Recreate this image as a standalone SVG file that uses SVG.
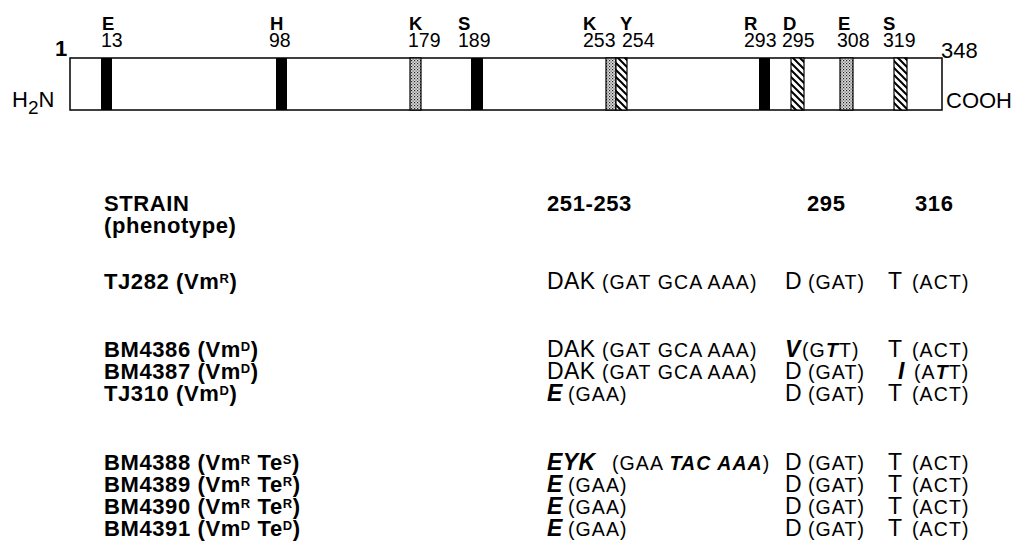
<svg xmlns="http://www.w3.org/2000/svg" width="1020" height="555" viewBox="0 0 1020 555">
<style>
text{font-family:"Liberation Sans",Arial,Helvetica,sans-serif;fill:#000}
.lb{font-size:19.5px}
.lt{font-size:18.5px;font-weight:bold}
.end{font-size:22px}
.b{font-size:22px;font-weight:bold;letter-spacing:0.6px}
.sup{font-size:13px;font-weight:bold}
.r{font-size:23px;letter-spacing:0.4px}
.c{font-size:19.5px;letter-spacing:1.1px}
.bi{font-weight:bold;font-style:italic}
.bar{fill:#fff;stroke:#000;stroke-width:1.5}
.blk{fill:#000}
.stp{fill:url(#stipple);stroke:#000;stroke-width:1.2}
.hat{fill:url(#hatch);stroke:#000;stroke-width:1.2}
</style>
<defs>
<pattern id="stipple" patternUnits="userSpaceOnUse" width="3" height="3">
<rect width="3" height="3" fill="#ddd"/>
<rect x="0" y="0" width="1.2" height="1.2" fill="#222"/>
<rect x="1.5" y="1.5" width="1.2" height="1.2" fill="#555"/>
</pattern>
<pattern id="hatch" patternUnits="userSpaceOnUse" width="7" height="7">
<rect width="7" height="7" fill="#fff"/>
<path d="M0,0 L7,7 M-1,6 L1,8 M6,-1 L8,1" stroke="#000" stroke-width="2"/>
</pattern>
</defs>

<g id="protein">
<rect class="bar" x="70" y="58" width="872" height="52"/>
<rect class="blk" x="101" y="58" width="11" height="52"/>
<rect class="blk" x="276" y="58" width="11" height="52"/>
<rect class="stp" x="410" y="58" width="11" height="52"/>
<rect class="blk" x="471" y="58" width="12" height="52"/>
<rect class="stp" x="606" y="58" width="10" height="52"/>
<rect class="hat" x="616" y="58" width="11" height="52"/>
<rect class="blk" x="759" y="58" width="11" height="52"/>
<rect class="hat" x="791" y="58" width="13" height="52"/>
<rect class="stp" x="840" y="58" width="13" height="52"/>
<rect class="hat" x="894" y="58" width="13" height="52"/>
<text class="end" x="55" y="56" font-weight="bold">1</text>
<text class="end" x="941" y="58">348</text>
<text class="end" x="12" y="107">H<tspan font-size="19" dy="7">2</tspan><tspan dy="-7">N</tspan></text>
<text class="end" x="946" y="108" font-size="23">COOH</text>
</g>

<g id="site-labels">
<text class="lb"><tspan class="lt" x="102" y="30">E</tspan><tspan x="101" y="47">13</tspan></text>
<text class="lb"><tspan class="lt" x="270" y="30">H</tspan><tspan x="269" y="47">98</tspan></text>
<text class="lb"><tspan class="lt" x="409" y="30">K</tspan><tspan x="408" y="47">179</tspan></text>
<text class="lb"><tspan class="lt" x="458" y="30">S</tspan><tspan x="458" y="47">189</tspan></text>
<text class="lb"><tspan class="lt" x="583" y="30">K</tspan><tspan x="583" y="47">253</tspan></text>
<text class="lb"><tspan class="lt" x="620" y="30">Y</tspan><tspan x="622" y="47">254</tspan></text>
<text class="lb"><tspan class="lt" x="744" y="30">R</tspan><tspan x="744" y="47">293</tspan></text>
<text class="lb"><tspan class="lt" x="783" y="30">D</tspan><tspan x="782" y="47">295</tspan></text>
<text class="lb"><tspan class="lt" x="838" y="30">E</tspan><tspan x="837" y="47">308</tspan></text>
<text class="lb"><tspan class="lt" x="883" y="30">S</tspan><tspan x="883" y="47">319</tspan></text>
</g>

<g id="header">
<text class="b"><tspan x="104" y="211">STRAIN</tspan><tspan x="104" y="233">(phenotype)</tspan></text>
<text class="b" x="547" y="211">251-253</text>
<text class="b" x="807" y="211">295</text>
<text class="b" x="915" y="211">316</text>
</g>

<g id="row-TJ282">
<text class="b" x="104" y="289">TJ282 (Vm<tspan class="sup" dy="-6">R</tspan><tspan dy="6">)</tspan></text>
<text class="r" x="547" y="289">DAK</text><text class="c" x="602" y="289">(GAT GCA AAA)</text>
<text class="r" x="785" y="289">D</text><text class="c" x="808" y="289">(GAT)</text>
<text class="r" x="888" y="289">T</text><text class="c" x="912" y="289">(ACT)</text>
</g>

<g id="row-BM4386">
<text class="b" x="104" y="357">BM4386 (Vm<tspan class="sup" dy="-6">D</tspan><tspan dy="6">)</tspan></text>
<text class="r" x="547" y="357">DAK</text><text class="c" x="602" y="357">(GAT GCA AAA)</text>
<text class="r bi" x="785" y="357">V</text><text class="c" x="802" y="357">(G<tspan class="bi">T</tspan>T)</text>
<text class="r" x="888" y="357">T</text><text class="c" x="912" y="357">(ACT)</text>
</g>

<g id="row-BM4387">
<text class="b" x="104" y="379">BM4387 (Vm<tspan class="sup" dy="-6">D</tspan><tspan dy="6">)</tspan></text>
<text class="r" x="547" y="379">DAK</text><text class="c" x="602" y="379">(GAT GCA AAA)</text>
<text class="r" x="785" y="379">D</text><text class="c" x="808" y="379">(GAT)</text>
<text class="r bi" x="898" y="379">I</text><text class="c" x="914" y="379">(A<tspan class="bi">T</tspan>T)</text>
</g>

<g id="row-TJ310">
<text class="b" x="104" y="401">TJ310 (Vm<tspan class="sup" dy="-6">D</tspan><tspan dy="6">)</tspan></text>
<text class="r bi" x="547" y="401">E</text><text class="c" x="568" y="401">(GAA)</text>
<text class="r" x="785" y="401">D</text><text class="c" x="808" y="401">(GAT)</text>
<text class="r" x="888" y="401">T</text><text class="c" x="912" y="401">(ACT)</text>
</g>

<g id="row-BM4388">
<text class="b" x="104" y="470">BM4388 (Vm<tspan class="sup" dy="-6">R</tspan><tspan dy="6"> Te</tspan><tspan class="sup" dy="-6">S</tspan><tspan dy="6">)</tspan></text>
<text class="r bi" x="547" y="470">EYK</text><text class="c" x="612" y="470">(GAA <tspan class="bi">TAC AAA</tspan>)</text>
<text class="r" x="785" y="470">D</text><text class="c" x="808" y="470">(GAT)</text>
<text class="r" x="888" y="470">T</text><text class="c" x="912" y="470">(ACT)</text>
</g>

<g id="row-BM4389">
<text class="b" x="104" y="492">BM4389 (Vm<tspan class="sup" dy="-6">R</tspan><tspan dy="6"> Te</tspan><tspan class="sup" dy="-6">R</tspan><tspan dy="6">)</tspan></text>
<text class="r bi" x="547" y="492">E</text><text class="c" x="568" y="492">(GAA)</text>
<text class="r" x="785" y="492">D</text><text class="c" x="808" y="492">(GAT)</text>
<text class="r" x="888" y="492">T</text><text class="c" x="912" y="492">(ACT)</text>
</g>

<g id="row-BM4390">
<text class="b" x="104" y="514">BM4390 (Vm<tspan class="sup" dy="-6">R</tspan><tspan dy="6"> Te</tspan><tspan class="sup" dy="-6">R</tspan><tspan dy="6">)</tspan></text>
<text class="r bi" x="547" y="514">E</text><text class="c" x="568" y="514">(GAA)</text>
<text class="r" x="785" y="514">D</text><text class="c" x="808" y="514">(GAT)</text>
<text class="r" x="888" y="514">T</text><text class="c" x="912" y="514">(ACT)</text>
</g>

<g id="row-BM4391">
<text class="b" x="104" y="536">BM4391 (Vm<tspan class="sup" dy="-6">D</tspan><tspan dy="6"> Te</tspan><tspan class="sup" dy="-6">D</tspan><tspan dy="6">)</tspan></text>
<text class="r bi" x="547" y="536">E</text><text class="c" x="568" y="536">(GAA)</text>
<text class="r" x="785" y="536">D</text><text class="c" x="808" y="536">(GAT)</text>
<text class="r" x="888" y="536">T</text><text class="c" x="912" y="536">(ACT)</text>
</g>
</svg>
